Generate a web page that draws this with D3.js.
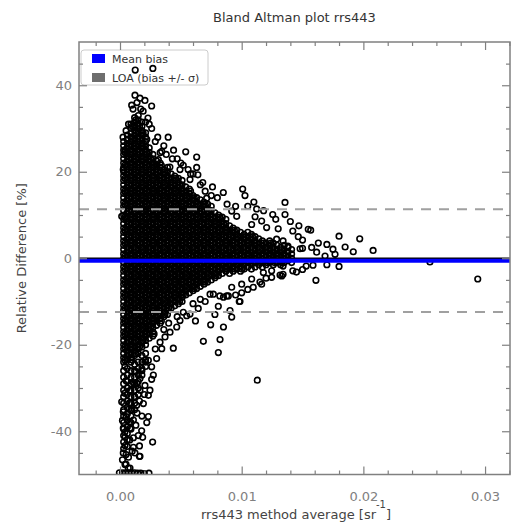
<!DOCTYPE html>
<html><head><meta charset="utf-8">
<script src="https://cdn.jsdelivr.net/npm/d3@7"></script>
<style>body{margin:0;background:#fff} svg{display:block;font-family:"DejaVu Sans",sans-serif}</style>
</head><body><svg id="c" width="513" height="523"></svg>
<script>
const chartTitle = "Bland Altman plot rrs443";
const xLabel = "rrs443 method average [sr";
const yLabel = "Relative Difference [%]";
const xTicks = [0, 0.01, 0.02, 0.03];
const xMinorTicks = [-0.002, 0.002, 0.004, 0.006, 0.008, 0.012, 0.014, 0.016, 0.018, 0.022, 0.024, 0.026, 0.028, 0.032];
const yTicks = [-40, -20, 0, 20, 40];
const yMinorTicks = [-45, -35, -30, -25, -15, -10, -5, 5, 10, 15, 25, 30, 35, 45];
const legendLabels = ["Mean bias", "LOA (bias +/- σ)"];
const meanBias = -0.55;
const loaSigma = 11.9;
const zeroLine = 0;

// dense core of the scatter, read column by column: [method average, relative differences]
const denseColumns = [
[0.0003,[-24,-23,-22,-21,-20,-19,-18,-17,-16,-15,-14,-13,-12,-11,-10,-9,-8,-7,-6,-5,-4,-3,-2,-1,0,1,2,3,4,5,6,7,8,9,10,11,12,13,14,15,16,17,18,19,20,21,22,23,24,25,26,27,-26,-27.5,-29,-30.5,-32,-33.5,-35,-36.5,-38,-39.5,-41,-42.5,-44]],
[0.0006,[-23.5,-22.5,-21.5,-20.5,-19.5,-18.5,-17.5,-16.5,-15.5,-14.5,-13.5,-12.5,-11.5,-10.5,-9.5,-8.5,-7.5,-6.5,-5.5,-4.5,-3.5,-2.5,-1.5,-0.5,0.5,1.5,2.5,3.5,4.5,5.5,6.5,7.5,8.5,9.5,10.5,11.5,12.5,13.5,14.5,15.5,16.5,17.5,18.5,19.5,20.5,21.5,22.5,23.5,24.5,25.5,26.5,27.5,28.5,-25.5,-27,-28.5,-30,-31.5,-33,-34.5,-36,-37.5,-39,-40.5,-42,-43.5]],
[0.0009,[-24,-23,-22,-21,-20,-19,-18,-17,-16,-15,-14,-13,-12,-11,-10,-9,-8,-7,-6,-5,-4,-3,-2,-1,0,1,2,3,4,5,6,7,8,9,10,11,12,13,14,15,16,17,18,19,20,21,22,23,24,25,26,27,28,29,30,31,-26,-27.5,-29,-30.5,-32,-33.5,-35,-36.5,-38,-39.5]],
[0.0012,[-22.5,-21.5,-20.5,-19.5,-18.5,-17.5,-16.5,-15.5,-14.5,-13.5,-12.5,-11.5,-10.5,-9.5,-8.5,-7.5,-6.5,-5.5,-4.5,-3.5,-2.5,-1.5,-0.5,0.5,1.5,2.5,3.5,4.5,5.5,6.5,7.5,8.5,9.5,10.5,11.5,12.5,13.5,14.5,15.5,16.5,17.5,18.5,19.5,20.5,21.5,22.5,23.5,24.5,25.5,26.5,27.5,28.5,29.5,30.5,31.5,32.5,-24.5,-26,-27.5,-29,-30.5,-32,-33.5,-35]],
[0.0015,[-22,-21,-20,-19,-18,-17,-16,-15,-14,-13,-12,-11,-10,-9,-8,-7,-6,-5,-4,-3,-2,-1,0,1,2,3,4,5,6,7,8,9,10,11,12,13,14,15,16,17,18,19,20,21,22,23,24,25,26,27,28,29,30,31,32,33,-24,-25.5,-27,-28.5,-30,-31.5]],
[0.0018,[-20.5,-19.5,-18.5,-17.5,-16.5,-15.5,-14.5,-13.5,-12.5,-11.5,-10.5,-9.5,-8.5,-7.5,-6.5,-5.5,-4.5,-3.5,-2.5,-1.5,-0.5,0.5,1.5,2.5,3.5,4.5,5.5,6.5,7.5,8.5,9.5,10.5,11.5,12.5,13.5,14.5,15.5,16.5,17.5,18.5,19.5,20.5,21.5,22.5,23.5,24.5,25.5,26.5,27.5,28.5,29.5,30.5,31.5,-22.5,-24,-25.5,-27]],
[0.0021,[-20,-19,-18,-17,-16,-15,-14,-13,-12,-11,-10,-9,-8,-7,-6,-5,-4,-3,-2,-1,0,1,2,3,4,5,6,7,8,9,10,11,12,13,14,15,16,17,18,19,20,21,22,23,24,25,26,27,28,29,-22,-23.5,-25]],
[0.0024,[-18.5,-17.5,-16.5,-15.5,-14.5,-13.5,-12.5,-11.5,-10.5,-9.5,-8.5,-7.5,-6.5,-5.5,-4.5,-3.5,-2.5,-1.5,-0.5,0.5,1.5,2.5,3.5,4.5,5.5,6.5,7.5,8.5,9.5,10.5,11.5,12.5,13.5,14.5,15.5,16.5,17.5,18.5,19.5,20.5,21.5,22.5,23.5,24.5,25.5]],
[0.0027,[-18,-17,-16,-15,-14,-13,-12,-11,-10,-9,-8,-7,-6,-5,-4,-3,-2,-1,0,1,2,3,4,5,6,7,8,9,10,11,12,13,14,15,16,17,18,19,20,21,22,23,24]],
[0.0030,[-15.5,-14.5,-13.5,-12.5,-11.5,-10.5,-9.5,-8.5,-7.5,-6.5,-5.5,-4.5,-3.5,-2.5,-1.5,-0.5,0.5,1.5,2.5,3.5,4.5,5.5,6.5,7.5,8.5,9.5,10.5,11.5,12.5,13.5,14.5,15.5,16.5,17.5,18.5,19.5,20.5,21.5,22.5]],
[0.0033,[-15,-14,-13,-12,-11,-10,-9,-8,-7,-6,-5,-4,-3,-2,-1,0,1,2,3,4,5,6,7,8,9,10,11,12,13,14,15,16,17,18,19,20,21,22]],
[0.0036,[-13.5,-12.5,-11.5,-10.5,-9.5,-8.5,-7.5,-6.5,-5.5,-4.5,-3.5,-2.5,-1.5,-0.5,0.5,1.5,2.5,3.5,4.5,5.5,6.5,7.5,8.5,9.5,10.5,11.5,12.5,13.5,14.5,15.5,16.5,17.5,18.5,19.5,20.5]],
[0.0039,[-13,-12,-11,-10,-9,-8,-7,-6,-5,-4,-3,-2,-1,0,1,2,3,4,5,6,7,8,9,10,11,12,13,14,15,16,17,18,19,20,21]],
[0.0042,[-11.5,-10.5,-9.5,-8.5,-7.5,-6.5,-5.5,-4.5,-3.5,-2.5,-1.5,-0.5,0.5,1.5,2.5,3.5,4.5,5.5,6.5,7.5,8.5,9.5,10.5,11.5,12.5,13.5,14.5,15.5,16.5,17.5,18.5,19.5]],
[0.0045,[-11,-10,-9,-8,-7,-6,-5,-4,-3,-2,-1,0,1,2,3,4,5,6,7,8,9,10,11,12,13,14,15,16,17,18,19]],
[0.0048,[-10.5,-9.5,-8.5,-7.5,-6.5,-5.5,-4.5,-3.5,-2.5,-1.5,-0.5,0.5,1.5,2.5,3.5,4.5,5.5,6.5,7.5,8.5,9.5,10.5,11.5,12.5,13.5,14.5,15.5,16.5,17.5,18.5]],
[0.0051,[-10,-9,-8,-7,-6,-5,-4,-3,-2,-1,0,1,2,3,4,5,6,7,8,9,10,11,12,13,14,15,16,17,18]],
[0.0054,[-8.5,-7.5,-6.5,-5.5,-4.5,-3.5,-2.5,-1.5,-0.5,0.5,1.5,2.5,3.5,4.5,5.5,6.5,7.5,8.5,9.5,10.5,11.5,12.5,13.5,14.5,15.5,16.5]],
[0.0057,[-8,-7,-6,-5,-4,-3,-2,-1,0,1,2,3,4,5,6,7,8,9,10,11,12,13,14,15,16]],
[0.0060,[-7.5,-6.5,-5.5,-4.5,-3.5,-2.5,-1.5,-0.5,0.5,1.5,2.5,3.5,4.5,5.5,6.5,7.5,8.5,9.5,10.5,11.5,12.5,13.5,14.5]],
[0.0063,[-7,-6,-5,-4,-3,-2,-1,0,1,2,3,4,5,6,7,8,9,10,11,12,13,14]],
[0.0066,[-6.5,-5.5,-4.5,-3.5,-2.5,-1.5,-0.5,0.5,1.5,2.5,3.5,4.5,5.5,6.5,7.5,8.5,9.5,10.5,11.5,12.5,13.5]],
[0.0069,[-6,-5,-4,-3,-2,-1,0,1,2,3,4,5,6,7,8,9,10,11,12,13]],
[0.0072,[-5.5,-4.5,-3.5,-2.5,-1.5,-0.5,0.5,1.5,2.5,3.5,4.5,5.5,6.5,7.5,8.5,9.5,10.5,11.5,12.5]],
[0.0075,[-5,-4,-3,-2,-1,0,1,2,3,4,5,6,7,8,9,10,11,12]],
[0.0078,[-4.5,-3.5,-2.5,-1.5,-0.5,0.5,1.5,2.5,3.5,4.5,5.5,6.5,7.5,8.5,9.5,10.5]],
[0.0081,[-4,-3,-2,-1,0,1,2,3,4,5,6,7,8,9,10]],
[0.0084,[-3.5,-2.5,-1.5,-0.5,0.5,1.5,2.5,3.5,4.5,5.5,6.5,7.5,8.5,9.5]],
[0.0087,[-3,-2,-1,0,1,2,3,4,5,6,7,8,9]],
[0.0090,[-3.5,-2.5,-1.5,-0.5,0.5,1.5,2.5,3.5,4.5,5.5,6.5,7.5]],
[0.0093,[-3,-2,-1,0,1,2,3,4,5,6,7]],
[0.0096,[-2.5,-1.5,-0.5,0.5,1.5,2.5,3.5,4.5,5.5,6.5]],
[0.0099,[-3,-2,-1,0,1,2,3,4,5,6]],
[0.0102,[-2.5,-1.5,-0.5,0.5,1.5,2.5,3.5,4.5,5.5]],
[0.0105,[-2,-1,0,1,2,3,4,5,6]],
[0.0108,[-2.5,-1.5,-0.5,0.5,1.5,2.5,3.5,4.5,5.5]],
[0.0111,[-2,-1,0,1,2,3,4,5]],
[0.0114,[-1.5,-0.5,0.5,1.5,2.5,3.5,4.5]],
[0.0117,[-2,-1,0,1,2,3,4]],
[0.0120,[-1.5,-0.5,0.5,1.5,2.5,3.5]],
[0.0123,[-1,0,1,2,3,4]],
[0.0126,[-1.5,-0.5,0.5,1.5,2.5,3.5]],
[0.0129,[-1,0,1,2,3]],
[0.0132,[-1.5,-0.5,0.5,1.5,2.5]],
[0.0135,[-1,0,1,2,3]],
[0.0138,[-0.5,0.5,1.5,2.5]],
[0.0141,[-1,0,1,2]]
];

// further overlapping points of the solid core, between the columns above
const denseFillColumns = [
[0.0004,[-23.5,-20.5,-17.5,-14.5,-11.5,-8.5,-5.5,-2.5,0.5,3.5,6.5,9.5,12.5,15.5,18.5,21.5,24.5]],
[0.0007,[-22,-19,-16,-13,-10,-7,-4,-1,2,5,8,11,14,17,20,23,26]],
[0.0010,[-23.5,-20.5,-17.5,-14.5,-11.5,-8.5,-5.5,-2.5,0.5,3.5,6.5,9.5,12.5,15.5,18.5,21.5,24.5,27.5,30.5]],
[0.0013,[-22,-19,-16,-13,-10,-7,-4,-1,2,5,8,11,14,17,20,23,26,29,32]],
[0.0016,[-20.5,-17.5,-14.5,-11.5,-8.5,-5.5,-2.5,0.5,3.5,6.5,9.5,12.5,15.5,18.5,21.5,24.5,27.5,30.5]],
[0.0019,[-19,-16,-13,-10,-7,-4,-1,2,5,8,11,14,17,20,23,26,29]],
[0.0022,[-17.5,-14.5,-11.5,-8.5,-5.5,-2.5,0.5,3.5,6.5,9.5,12.5,15.5,18.5,21.5,24.5,27.5]],
[0.0025,[-16,-13,-10,-7,-4,-1,2,5,8,11,14,17,20,23]],
[0.0028,[-17.5,-14.5,-11.5,-8.5,-5.5,-2.5,0.5,3.5,6.5,9.5,12.5,15.5,18.5,21.5]],
[0.0031,[-13,-10,-7,-4,-1,2,5,8,11,14,17,20]],
[0.0034,[-14.5,-11.5,-8.5,-5.5,-2.5,0.5,3.5,6.5,9.5,12.5,15.5,18.5,21.5]],
[0.0037,[-13,-10,-7,-4,-1,2,5,8,11,14,17,20]],
[0.0040,[-11.5,-8.5,-5.5,-2.5,0.5,3.5,6.5,9.5,12.5,15.5,18.5]],
[0.0043,[-10,-7,-4,-1,2,5,8,11,14,17]],
[0.0046,[-8.5,-5.5,-2.5,0.5,3.5,6.5,9.5,12.5,15.5,18.5]],
[0.0049,[-10,-7,-4,-1,2,5,8,11,14,17]],
[0.0052,[-8.5,-5.5,-2.5,0.5,3.5,6.5,9.5,12.5,15.5]],
[0.0055,[-7,-4,-1,2,5,8,11,14]],
[0.0058,[-5.5,-2.5,0.5,3.5,6.5,9.5,12.5,15.5]],
[0.0061,[-7,-4,-1,2,5,8,11,14]],
[0.0064,[-5.5,-2.5,0.5,3.5,6.5,9.5,12.5]],
[0.0067,[-4,-1,2,5,8,11]],
[0.0070,[-5.5,-2.5,0.5,3.5,6.5,9.5,12.5]],
[0.0073,[-4,-1,2,5,8,11]],
[0.0076,[-2.5,0.5,3.5,6.5,9.5]],
[0.0079,[-4,-1,2,5,8]],
[0.0082,[-2.5,0.5,3.5,6.5,9.5]],
[0.0085,[-1,2,5,8]],
[0.0088,[-2.5,0.5,3.5,6.5]],
[0.0091,[-1,2,5]],
[0.0094,[-2.5,0.5,3.5,6.5]],
[0.0097,[-1,2,5]],
[0.0100,[-2.5,0.5,3.5]],
[0.0103,[-1,2,5]],
[0.0106,[0.5,3.5]],
[0.0109,[-1,2,5]],
[0.0112,[0.5,3.5]],
[0.0115,[-1,2]],
[0.0118,[0.5,3.5]],
[0.0121,[-1,2]],
[0.0124,[0.5,3.5]],
[0.0127,[-1,2]],
[0.0130,[0.5]],
[0.0133,[-1,2]],
[0.0136,[0.5]]
];

// individually readable points: [method average, relative difference]
const scatteredPoints = [
[0.00123,37.7],[0.00164,37],[0.00205,36.5],[0.0026,35.2],[0.00096,35.4],[0.00107,34.5],[0.0014,36],[0.0023,32.4],[0.0024,31],[0.00025,28],[0.0031,28],[0.00396,28],[0.0033,24.4],[0.0044,25],[0.0054,24.6],[0.0063,23.4],[0.0063,21],[0.0064,19.3],[0.00027,20.5],[0.00014,9.7],[0.00343,24.7],[0.00575,18.2],[0.00493,20.5],[0.0041,21.1],[0.003,21.6],[0.00315,22.8],[0.00712,13.9],[0.00849,15.2],[0.01008,16],[0.01027,14.5],[0.01123,11.4],[0.0111,9.6],[0.00918,10.9],[0.00959,9.7],[0.01255,10.1],[0.01356,12.9],[0.01356,10.1],[0.01164,8.6],[0.01205,7.1],[0.01082,7.8],[0.013,6.8],[0.0142,6.3],[0.01465,5],[0.01547,6.7],[0.01567,6.5],[0.018,5.1],[0.0197,4.5],[0.0208,1.8],[0.01917,1.5],[0.0175,2.1],[0.01616,1.4],[0.015,2.3],[0.01575,2.5],[0.0148,2.2],[0.01685,0.5],[0.01767,0.9],[0.01287,4.4],[0.0134,4],[0.0138,2.8],
[0.00125,43.5],[0.0027,43.9],
[0.02547,-0.85],[0.0294,-4.8],
[0.0161,-5.1],[0.0134,-3.7],[0.0142,-2.9],[0.0153,-1.8],[0.01586,-1.6],[0.01178,-3.3],[0.01246,-2.9],[0.01164,-6],[0.0082,-8.7],[0.00877,-8.7],[0.00767,-8.3],[0.00986,-10],[0.00918,-6.7],[0.01,-6],[0.01082,-4.8],[0.01246,-4.4],[0.01315,-3.9],[0.00438,-20.8],[0.00685,-19.2],[0.00808,-21.8],[0.00822,-18.8],[0.00745,-15.4],[0.0085,-15.9],[0.01128,-28.2],[0.0098,-10],[0.00904,-12.1],[0.00918,-13.6],[0.00808,-11.1],[0.00643,-11.6],[0.00575,-12.9],[0.0074,-8.3],[0.0085,-9],[0.0089,-8.7],[0.01095,-6.7],[0.01329,-4.1],[0.0134,-1.8],
[0.00268,-42.5],[0.00186,-41.4],[0.00164,-45.8],[0.0011,-43.7],[0.00041,-43.3],[0.00041,-41.4],[0.00027,-39.3],[0.00233,-36.6],[0.00178,-39.9],[0.00082,-39.3],[0.0011,-37.4],[0.00014,-33.2],[0.00027,-35.5],[0.00096,-35.1],[0.00137,-34],[0.00192,-33.6],[0.00233,-31.7],[0.00246,-30.5],[0.00164,-30.5],[0.00205,-29.4],[0.00164,-27.8],[0.00274,-27],[0.0026,-25.1],[0.00233,-23.6],[0.00301,-23.2],[0.00343,-20.9],[0.00329,-19.4],[0.0037,-18.2],[0.00411,-17.1],[0.00466,-15.9],[0.00493,-14.4],[0.00548,-13.3],[0.00082,-48.5],[0.00049,-47.6],[0.00123,-45],[0.00159,-45.8],[0.00027,-45],
[-0.00005,-49.6],[0.0002,-49.6],[0.00045,-49.6],[0.0007,-49.6],[0.00095,-49.6],[0.0012,-49.6],[0.00145,-49.7],[0.0017,-49.7],[0.002,-49.8],[0.00238,-49.7],[0.00068,-48.5],[0.00041,-47.7],
[0.011,13],[0.0105,12],[0.0118,11],[0.0128,9],[0.014,8.5],[0.0147,7.5],[0.0088,12.5],[0.008,14],[0.0076,16.5],[0.0068,17.5],[0.006,19.5],[0.0052,21.5],[0.0047,23],[0.0056,20.5],[0.007,15.5],[0.0095,12],[0.015,4.2],[0.0163,3.5],[0.017,3.2],[0.0185,2.6],[0.0145,-3.2],[0.015,-2.6],[0.017,-1.5],[0.018,-1.9],[0.01,-8],[0.0095,-8.5],[0.0105,-7.2],[0.0115,-5.5],[0.012,-4.6],[0.007,-10],[0.0066,-9.5],[0.006,-10.5],[0.0052,-12.5],[0.0047,-13.5],[0.004,-15],[0.0036,-16.5],[0.0062,-14.5],[0.0078,-13],[0.0029,-21],[0.0021,-24],[0.0018,-26],[0.0014,-29],[0.0012,-32],[0.0026,-28],[0.002,-31.5],[0.0022,-38],[0.0018,-36.5],[0.0015,-41],[0.0011,-41.5],[0.0007,-46],
[0.0007,31],[0.0005,29.5],[0.0004,25],[0.0019,34],[0.0021,31.5],[0.0017,34.5],[0.0026,30],[0.0029,27],[0.0036,26],[0.0038,24],[0.0043,23],[0.005,22],[0.0058,19.5],[0.0066,17],[0.0075,14.5],
[0.0004,-25],[0.0005,-28.3],[0.0008,-30.6],[0.0004,-31.2],[0.0008,-33.4],[0.0005,-36.6],[0.0008,-37.8],[0.0004,-40.2],[0.0008,-42],[0.0013,-38.6],[0.0013,-26.2],[0.0016,-33],[0.001,-44.6],[0.0016,-43.4],[0.0002,-46.6],[0.0005,-45.4],[0.0011,-28.8],[0.0014,-35.8],[0.0007,-34.9],[0.0002,-37.5]
];

const svg = d3.select("#c");
const M = {left: 79, right: 510, top: 42, bottom: 474.5};
const x = d3.scaleLinear().domain([-0.00337, 0.03205]).range([M.left, M.right]);
const y = d3.scaleLinear().domain([-50, 50]).range([M.bottom, M.top]);
const axisGray = "#808080";

svg.append("defs").append("clipPath").attr("id", "plotclip")
  .append("rect").attr("x", M.left).attr("y", M.top)
  .attr("width", M.right - M.left).attr("height", M.bottom - M.top);

// legend (drawn first, data rings overlap it as in the original)
const lg = svg.append("g").attr("transform", `translate(${M.left + 2},${M.top + 8})`);
lg.append("rect").attr("x", 0).attr("y", 0).attr("width", 127).attr("height", 35).attr("rx", 3)
  .attr("fill", "#fff").attr("fill-opacity", 0.8).attr("stroke", "#cccccc").attr("stroke-width", 1);
const legendColors = ["#0000ff", "#6e6e6e"];
legendLabels.forEach((t, i) => {
  lg.append("rect").attr("x", 11).attr("y", 4 + i * 19).attr("width", 13).attr("height", 9).attr("fill", legendColors[i]);
  lg.append("text").attr("x", 31).attr("y", 12.5 + i * 19).attr("font-size", 11).attr("fill", "#333").text(t);
});

// points
const expand = cols => cols.flatMap(([avg, diffs]) => diffs.map(d => [avg, d]));
const allPoints = expand(denseColumns).concat(expand(denseFillColumns), scatteredPoints);
svg.append("g").attr("clip-path", "url(#plotclip)")
  .selectAll("circle").data(allPoints).join("circle")
  .attr("cx", d => x(d[0])).attr("cy", d => y(d[1])).attr("r", 2.8)
  .attr("fill", "none").attr("stroke", "#000").attr("stroke-width", 1.6);

// reference lines
const lines = svg.append("g").attr("clip-path", "url(#plotclip)");
[meanBias + loaSigma, meanBias - loaSigma].forEach(v => {
  lines.append("line").attr("x1", M.left).attr("x2", M.right).attr("y1", y(v)).attr("y2", y(v))
    .attr("stroke", "#a0a0a0").attr("stroke-width", 2).attr("stroke-dasharray", "10,8");
});
lines.append("line").attr("x1", M.left).attr("x2", M.right).attr("y1", y(zeroLine)).attr("y2", y(zeroLine))
  .attr("stroke", "#000").attr("stroke-width", 1.5);
lines.append("line").attr("x1", M.left).attr("x2", M.right).attr("y1", y(meanBias)).attr("y2", y(meanBias))
  .attr("stroke", "#0000ff").attr("stroke-width", 4);

// axes
function styleAxis(g) {
  g.select(".domain").remove();
  g.selectAll(".tick line").attr("stroke", axisGray).attr("stroke-width", 1.2);
  g.selectAll(".tick text").attr("fill", axisGray).attr("font-size", 13).attr("font-family", "DejaVu Sans, sans-serif");
}
const fmtX = d3.format(".2f");
svg.append("g").attr("transform", `translate(0,${M.bottom})`)
  .call(d3.axisBottom(x).tickValues(xTicks).tickFormat(fmtX).tickSizeInner(-8).tickSizeOuter(0).tickPadding(17)).call(styleAxis);
svg.append("g").attr("transform", `translate(0,${M.bottom})`)
  .call(d3.axisBottom(x).tickValues(xMinorTicks).tickFormat("").tickSizeInner(-4).tickSizeOuter(0)).call(styleAxis);
svg.append("g").attr("transform", `translate(0,${M.top})`)
  .call(d3.axisTop(x).tickValues(xTicks).tickFormat("").tickSizeInner(-8).tickSizeOuter(0)).call(styleAxis);
svg.append("g").attr("transform", `translate(0,${M.top})`)
  .call(d3.axisTop(x).tickValues(xMinorTicks).tickFormat("").tickSizeInner(-4).tickSizeOuter(0)).call(styleAxis);
svg.append("g").attr("transform", `translate(${M.left},0)`)
  .call(d3.axisLeft(y).tickValues(yTicks).tickFormat(d => String(d)).tickSizeInner(-8).tickSizeOuter(0).tickPadding(7)).call(styleAxis);
svg.append("g").attr("transform", `translate(${M.left},0)`)
  .call(d3.axisLeft(y).tickValues(yMinorTicks).tickFormat("").tickSizeInner(-4).tickSizeOuter(0)).call(styleAxis);
svg.append("g").attr("transform", `translate(${M.right},0)`)
  .call(d3.axisRight(y).tickValues(yTicks).tickFormat("").tickSizeInner(-8).tickSizeOuter(0)).call(styleAxis);
svg.append("g").attr("transform", `translate(${M.right},0)`)
  .call(d3.axisRight(y).tickValues(yMinorTicks).tickFormat("").tickSizeInner(-4).tickSizeOuter(0)).call(styleAxis);

svg.append("rect").attr("x", M.left).attr("y", M.top).attr("width", M.right - M.left).attr("height", M.bottom - M.top)
  .attr("fill", "none").attr("stroke", axisGray).attr("stroke-width", 1.5);

// titles
svg.append("text").attr("x", (M.left + M.right) / 2).attr("y", 22).attr("text-anchor", "middle")
  .attr("font-size", 13).attr("fill", "#333").text(chartTitle);
const xl = svg.append("text").attr("x", 296).attr("y", 519).attr("text-anchor", "middle")
  .attr("font-size", 13).attr("fill", "#444");
xl.append("tspan").text(xLabel);
xl.append("tspan").attr("dy", -11).attr("font-size", 10).text("-1");
xl.append("tspan").attr("dy", 11).text("]");
svg.append("text").attr("transform", `translate(26,${(M.top + M.bottom) / 2}) rotate(-90)`)
  .attr("text-anchor", "middle").attr("font-size", 13).attr("fill", "#444").text(yLabel);
</script>
</body></html>
